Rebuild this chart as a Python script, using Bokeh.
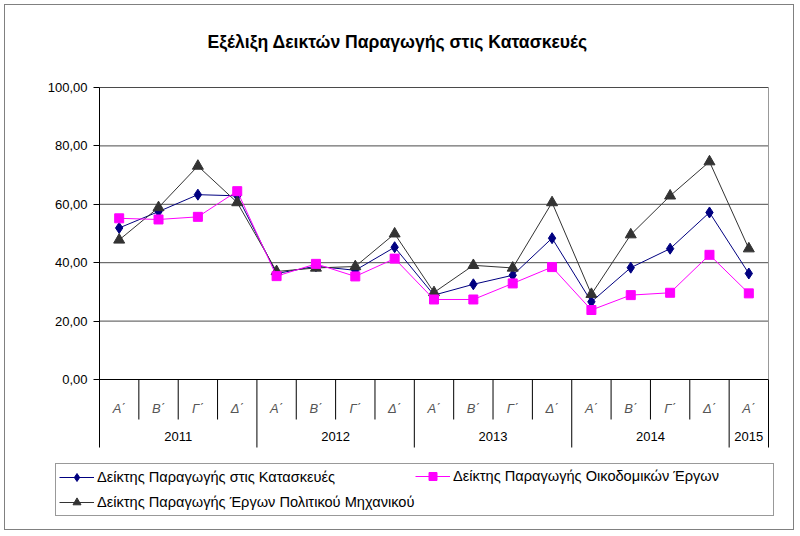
from bokeh.plotting import figure
from bokeh.models import Range1d, FixedTicker, Legend, LegendItem
from bokeh.core.properties import value
from bokeh.embed import file_html
from bokeh.resources import INLINE

# ---- data ----
quarters = ["Α΄", "Β΄", "Γ΄", "Δ΄", "Α΄", "Β΄", "Γ΄", "Δ΄", "Α΄", "Β΄", "Γ΄", "Δ΄",
            "Α΄", "Β΄", "Γ΄", "Δ΄", "Α΄"]
years = ["2011", "2012", "2013", "2014", "2015"]
quarters_per_year = [4, 4, 4, 4, 1]

construction = [51.9, 57.5, 63.3, 62.9, 36.3, 38.8, 37.4, 45.3, 28.9, 32.6, 35.7,
                48.4, 26.6, 38.3, 44.8, 57.2, 36.3]
buildings = [55.2, 54.8, 55.7, 64.5, 35.4, 39.6, 35.3, 41.4, 27.4, 27.4, 32.9,
             38.5, 23.8, 28.9, 29.7, 42.7, 29.5]
civil = [47.8, 58.9, 73.1, 60.6, 37.0, 38.2, 38.7, 49.9, 29.8, 39.1, 38.2,
         60.6, 29.2, 49.6, 62.9, 74.6, 44.8]

y_ticks = [0, 20, 40, 60, 80, 100]
y_tick_labels = ["0,00", "20,00", "40,00", "60,00", "80,00", "100,00"]

names = ["Δείκτης Παραγωγής στις Κατασκευές",
         "Δείκτης Παραγωγής Οικοδομικών Έργων",
         "Δείκτης Παραγωγής Έργων Πολιτικού Μηχανικού"]
title = "Εξέλιξη Δεικτών Παραγωγής στις Κατασκευές"

FONT = "Liberation Sans"

n = len(quarters)
xs = [i + 0.5 for i in range(n)]

# ---- layout geometry (page pixels) ----
W, H = 790, 526            # canvas, placed at page (5, 5)
ORG = 5
PLOT_L, PLOT_R = 99, 768    # x = 0 and x = n
PLOT_T, PLOT_B = 87, 379    # y = 100 and y = 0
FRAME_L, FRAME_R, FRAME_T, FRAME_B = 30, 776, 76, 527
px_x = (PLOT_R - PLOT_L) / n
px_y = (PLOT_B - PLOT_T) / 100.0
x_start = -(PLOT_L - FRAME_L) / px_x
x_end = n + (FRAME_R - PLOT_R) / px_x
y_start = -(FRAME_B - PLOT_B) / px_y
y_end = 100 + (PLOT_T - FRAME_T) / px_y
axis_area_bottom = -(447 - PLOT_B) / px_y
q_sep_end = -(419 - PLOT_B) / px_y
q_label_y = -(408 - PLOT_B) / px_y
year_label_y = -(436 - PLOT_B) / px_y

p = figure(width=W, height=H, output_backend="svg", toolbar_location=None,
           x_range=Range1d(x_start, x_end), y_range=Range1d(y_start, y_end),
           min_border_left=FRAME_L - ORG, min_border_right=ORG + W - FRAME_R,
           min_border_top=FRAME_T - ORG, min_border_bottom=ORG + H - FRAME_B,
           styles={"border": "1px solid #808080", "margin": "4px"})
p.outline_line_color = None
p.background_fill_color = "white"

p.title.text = title
p.title.text_font = FONT
p.title.text_font_size = "17.6px"
p.title.text_font_style = "bold"
p.title.text_color = "black"
p.title.align = "left"
p.title.vertical_align = "top"
p.title.offset = 177
p.title.standoff = 46

p.xaxis.visible = False
p.xgrid.visible = False
p.ygrid.visible = False

p.yaxis.fixed_location = 0
p.yaxis.ticker = FixedTicker(ticks=y_ticks)
p.yaxis.major_label_overrides = {t: l for t, l in zip(y_ticks, y_tick_labels)}
p.yaxis.major_label_text_font = FONT
p.yaxis.major_label_text_font_size = "13px"
p.yaxis.major_label_text_color = "black"
p.yaxis.axis_line_color = None
p.yaxis.major_tick_out = 6
p.yaxis.major_tick_in = 0
p.yaxis.minor_tick_line_color = None
p.yaxis.major_label_standoff = 6

# grid lines, zero line, axis line, right border of the plot area
grid_y = y_ticks[1:]
p.segment(x0=[0] * len(grid_y), y0=grid_y, x1=[n] * len(grid_y), y1=grid_y,
          line_color="#4a4a4a", line_width=1)
p.segment(x0=[0], y0=[0], x1=[n], y1=[0], line_color="black", line_width=1)
p.segment(x0=[0], y0=[axis_area_bottom], x1=[0], y1=[100], line_color="black", line_width=1)
p.segment(x0=[n], y0=[0], x1=[n], y1=[100], line_color="#999999", line_width=1)

# category separators
year_bounds = [0]
for q in quarters_per_year:
    year_bounds.append(year_bounds[-1] + q)
q_bounds = [b for b in range(1, n) if b not in year_bounds]
y_bounds_inner = year_bounds[1:]
p.segment(x0=q_bounds, y0=[0] * len(q_bounds), x1=q_bounds, y1=[q_sep_end] * len(q_bounds),
          line_color="black", line_width=1)
p.segment(x0=y_bounds_inner, y0=[0] * len(y_bounds_inner), x1=y_bounds_inner,
          y1=[axis_area_bottom] * len(y_bounds_inner), line_color="black", line_width=1)

# category labels
p.text(x=xs, y=[q_label_y] * n, text=quarters, text_font=value(FONT),
       text_font_size="13px", text_font_style="italic", text_color="#555555",
       text_align="center", text_baseline="middle")
year_centers = [(a + b) / 2 for a, b in zip(year_bounds[:-1], year_bounds[1:])]
p.text(x=year_centers, y=[year_label_y] * len(years), text=years, text_font=value(FONT),
       text_font_size="13px", text_color="black", text_align="center",
       text_baseline="middle")

# series
series = [
    dict(name=names[0], values=construction, color="#000080", marker="diamond", size=11),
    dict(name=names[2], values=civil, color="#333333", marker="triangle", size=11),
    dict(name=names[1], values=buildings, color="#FF00FF", marker="square", size=9),
]
items = {}
for s in series:
    rl = p.line(xs, s["values"], line_color=s["color"], line_width=1)
    rm = p.scatter(xs, s["values"], marker=s["marker"], size=s["size"], color=s["color"])
    items[s["name"]] = LegendItem(label=s["name"], renderers=[rl, rm])

# legend: box with two rows, the second column overlaid on the first row
LEG_L, LEG_R, LEG_T, LEG_B = 55, 772, 465, 516
PAD, GW, GH, STAND = 3, 35, 20, 3
common = dict(label_text_font=FONT, label_text_font_size="14.6px", label_text_color="black",
              glyph_width=GW, glyph_height=GH, label_standoff=STAND, spacing=5,
              padding=PAD, margin=0)
legend_a = Legend(items=[items[names[0]], items[names[2]]], orientation="vertical",
                  location=(LEG_L - FRAME_L, FRAME_B - LEG_B),
                  label_width=LEG_R - LEG_L - 2 * PAD - GW - STAND,
                  border_line_color="#333333", border_line_width=1, **common)
col2_left = 418 - PAD
legend_b = Legend(items=[items[names[1]]], orientation="vertical",
                  location=(col2_left - FRAME_L, FRAME_B - (LEG_T + 2 * PAD + GH) + 5),
                  border_line_color=None, background_fill_alpha=0, **common)
p.add_layout(legend_a)
p.add_layout(legend_b)

open("out.html", "w").write(file_html(p, INLINE))
